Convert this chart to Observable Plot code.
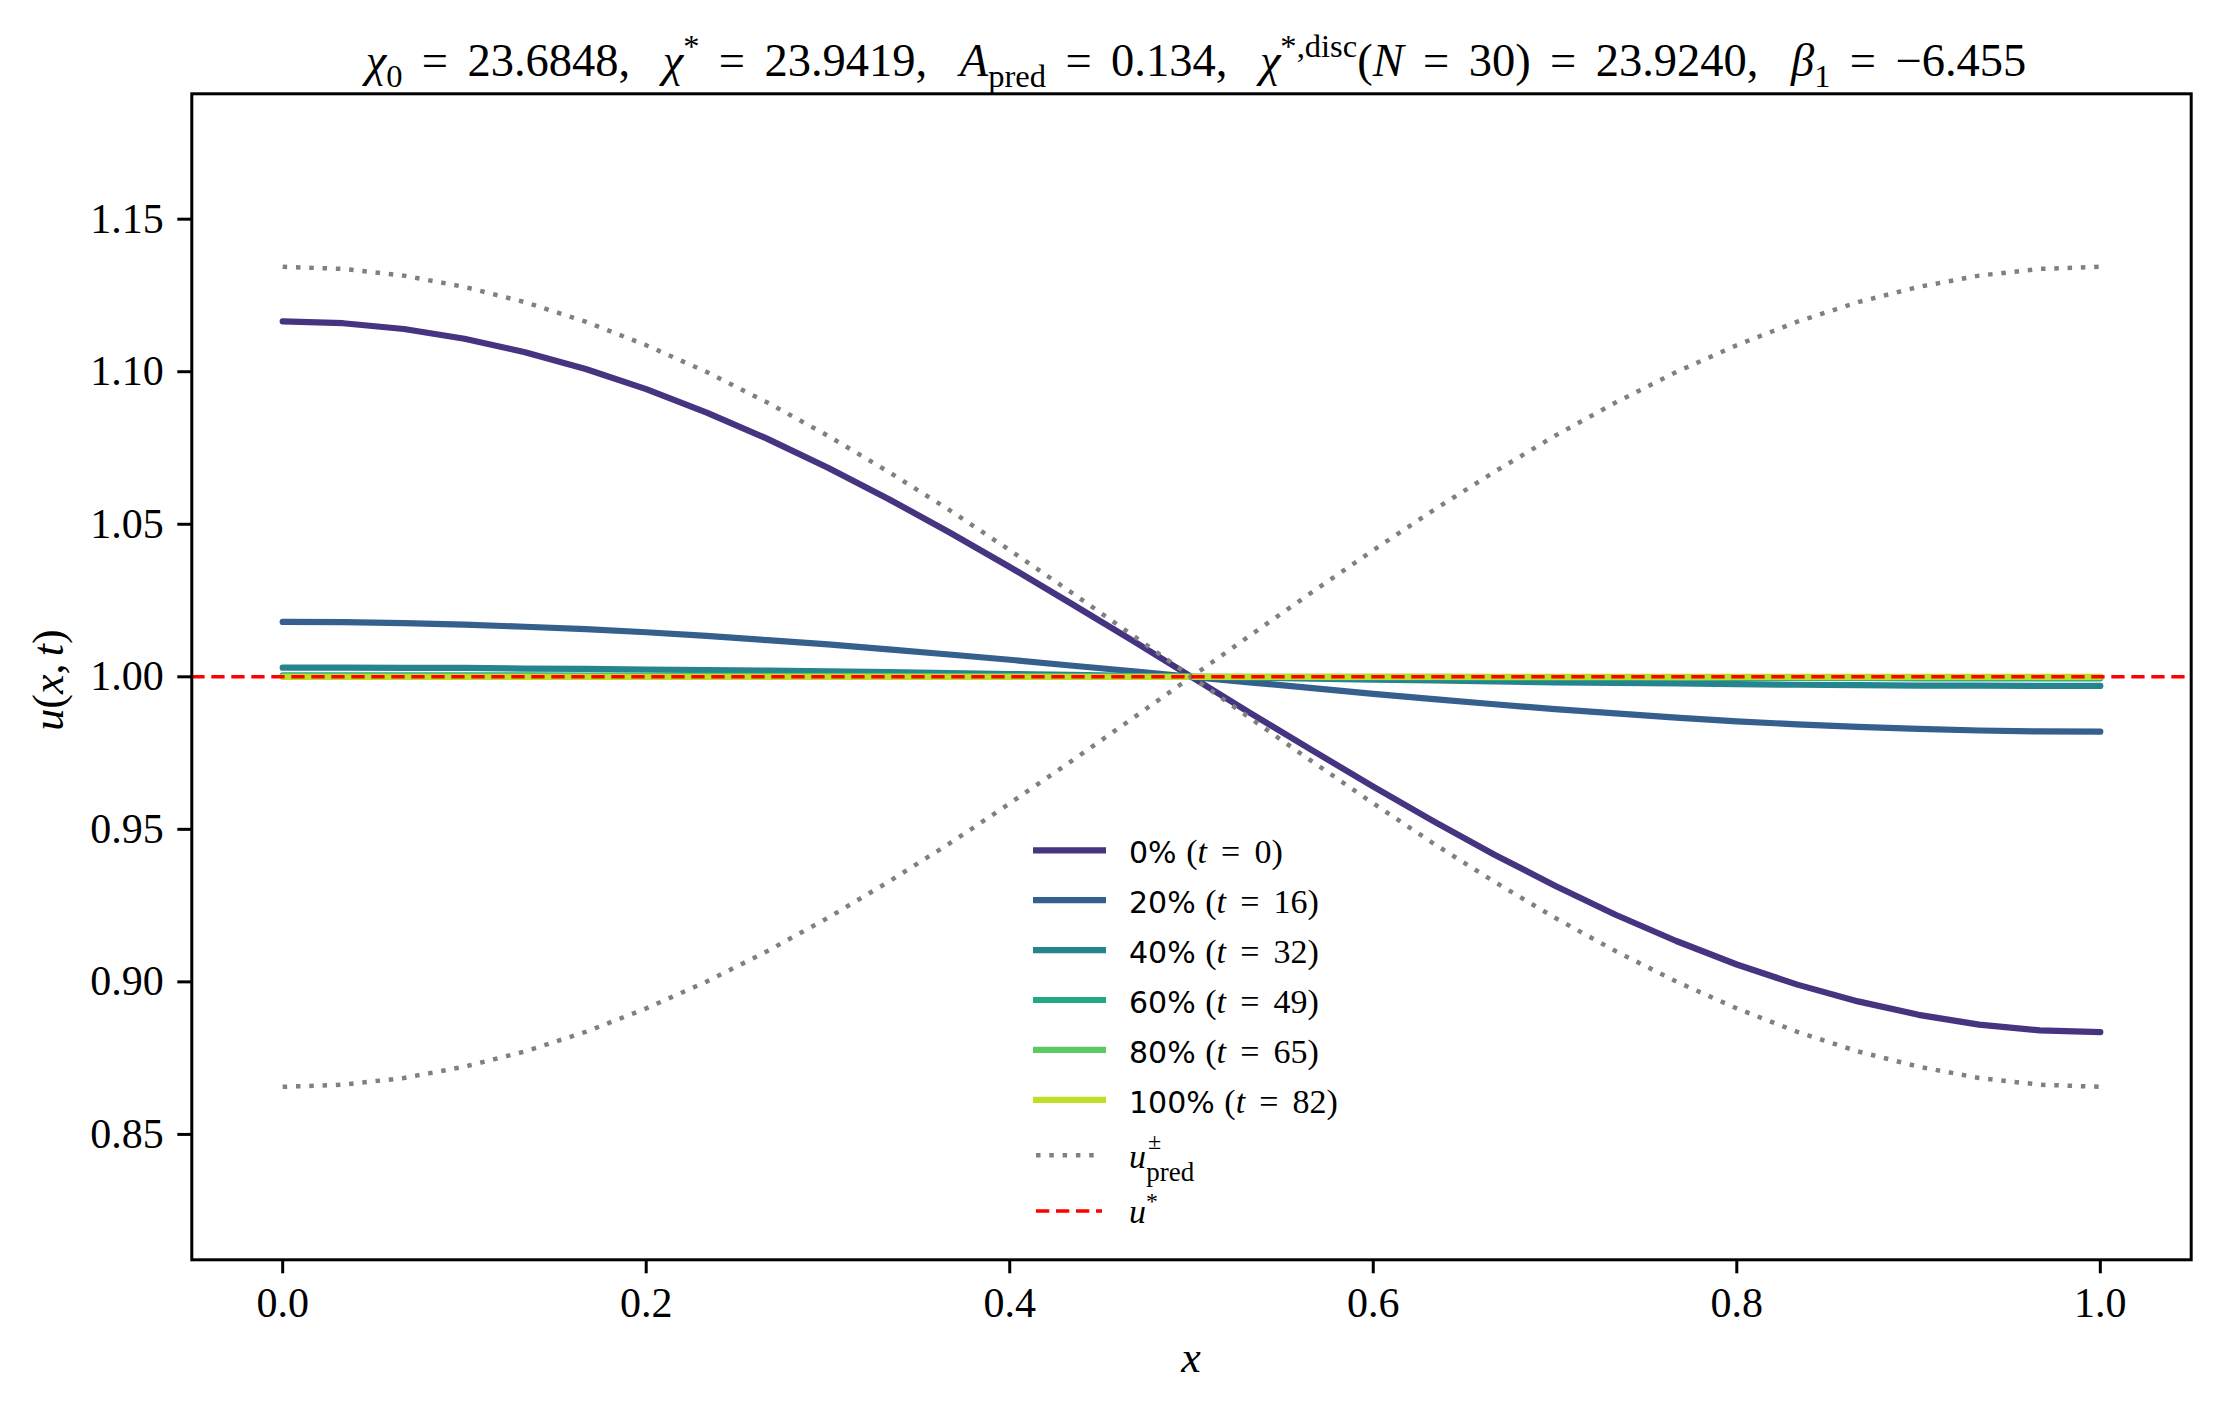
<!DOCTYPE html>
<html><head><meta charset="utf-8">
<script src="https://cdn.jsdelivr.net/npm/d3@7"></script>
<script src="https://cdn.jsdelivr.net/npm/@observablehq/plot@0.6"></script>
<style>
html,body{margin:0;padding:0;background:#fff;overflow:hidden}
#chart svg{display:block}
</style>
</head><body><div id="chart"></div>
<script>
// ---- data ----
const xGrid = [0.0000,0.0333,0.0667,0.1000,0.1333,0.1667,0.2000,0.2333,0.2667,0.3000,0.3333,0.3667,0.4000,0.4333,0.4667,0.5000,0.5333,0.5667,0.6000,0.6333,0.6667,0.7000,0.7333,0.7667,0.8000,0.8333,0.8667,0.9000,0.9333,0.9667,1.0000];
const u_t0  = [1.1165,1.1159,1.1140,1.1108,1.1064,1.1009,1.0943,1.0866,1.0780,1.0685,1.0583,1.0474,1.0360,1.0242,1.0122,1.0000,0.9878,0.9758,0.9640,0.9526,0.9417,0.9315,0.9220,0.9134,0.9057,0.8991,0.8936,0.8892,0.8860,0.8841,0.8835];
const u_t16 = [1.0180,1.0179,1.0176,1.0171,1.0164,1.0156,1.0146,1.0134,1.0120,1.0106,1.0090,1.0073,1.0056,1.0037,1.0019,1.0000,0.9981,0.9963,0.9944,0.9927,0.9910,0.9894,0.9880,0.9866,0.9854,0.9844,0.9836,0.9829,0.9824,0.9821,0.9820];
const u_t32 = [1.0030,1.0030,1.0029,1.0029,1.0027,1.0026,1.0024,1.0022,1.0020,1.0018,1.0015,1.0012,1.0009,1.0006,1.0003,1.0000,0.9997,0.9994,0.9991,0.9988,0.9985,0.9982,0.9980,0.9978,0.9976,0.9974,0.9973,0.9971,0.9971,0.9970,0.9970];
const u_t49 = [1.0005,1.0005,1.0005,1.0005,1.0005,1.0004,1.0004,1.0004,1.0003,1.0003,1.0003,1.0002,1.0002,1.0001,1.0001,1.0000,0.9999,0.9999,0.9998,0.9998,0.9998,0.9997,0.9997,0.9997,0.9996,0.9996,0.9996,0.9995,0.9995,0.9995,0.9995];
const u_t65 = [1.0001,1.0001,1.0001,1.0001,1.0001,1.0001,1.0001,1.0001,1.0001,1.0001,1.0001,1.0000,1.0000,1.0000,1.0000,1.0000,1.0000,1.0000,1.0000,1.0000,0.9999,0.9999,0.9999,0.9999,0.9999,0.9999,0.9999,0.9999,0.9999,0.9999,0.9999];
const u_t82 = [1.0000,1.0000,1.0000,1.0000,1.0000,1.0000,1.0000,1.0000,1.0000,1.0000,1.0000,1.0000,1.0000,1.0000,1.0000,1.0000,1.0000,1.0000,1.0000,1.0000,1.0000,1.0000,1.0000,1.0000,1.0000,1.0000,1.0000,1.0000,1.0000,1.0000,1.0000];
const uPredPlus  = [1.1344,1.1337,1.1315,1.1278,1.1228,1.1164,1.1087,1.0999,1.0899,1.0790,1.0672,1.0547,1.0415,1.0279,1.0140,1.0000,0.9860,0.9721,0.9585,0.9453,0.9328,0.9210,0.9101,0.9001,0.8913,0.8836,0.8772,0.8722,0.8685,0.8663,0.8656];
const uPredMinus = [0.8656,0.8663,0.8685,0.8722,0.8772,0.8836,0.8913,0.9001,0.9101,0.9210,0.9328,0.9453,0.9585,0.9721,0.9860,1.0000,1.0140,1.0279,1.0415,1.0547,1.0672,1.0790,1.0899,1.0999,1.1087,1.1164,1.1228,1.1278,1.1315,1.1337,1.1344];
const uStar = [1.0];
const seriesPct   = ["0%","20%","40%","60%","80%","100%"];
const seriesTimes = [0,16,32,49,65,82];
const xTicks = [0.0,0.2,0.4,0.6,0.8,1.0];
const yTicks = [0.85,0.90,0.95,1.00,1.05,1.10,1.15];

// ---- styles ----
const series = [u_t0,u_t16,u_t32,u_t49,u_t65,u_t82];
const colorPos = [0.15,0.30,0.45,0.60,0.75,0.90];
const colors = colorPos.map(p => d3.interpolateViridis(p));
const SERIF = "'Liberation Serif','DejaVu Serif',serif";
const SANS = "'DejaVu Sans','Liberation Sans',sans-serif";
const W = 2220, H = 1409;
const mL = 191.3, mR = W - 2190.7, mT = 93.3, mB = H - 1259.3;
const EQ = "\u2004\u200A=\u2004\u200A"; // wider spacing around relations, like TeX math
const GAP = ",\u2002\u2009";             // comma followed by a medium space

const toRows = vals => vals.map((v,k) => ({x: xGrid[k], u: v}));

const marks = [];
series.forEach((vals,i) => {
  marks.push(Plot.line(toRows(vals), {x:"x", y:"u", stroke: colors[i], strokeWidth: 6.2, strokeLinejoin:"round"}));
});
[uPredPlus, uPredMinus].forEach(vals => {
  marks.push(Plot.line(toRows(vals), {x:"x", y:"u", stroke:"#808080", strokeWidth:4.5, strokeDasharray:"4.5,8.8", strokeLinecap:"butt"}));
});
marks.push(Plot.ruleY(uStar, {stroke:"#ff0000", strokeWidth:3.6, strokeDasharray:"13.3,6.7"}));
marks.push(Plot.frame({stroke:"#000", strokeWidth:3}));
marks.push(Plot.axisX({ticks:xTicks, tickFormat:d=>d.toFixed(1), tickSize:14, tickPadding:13, strokeWidth:3, fontSize:42, fontFamily:SERIF, label:null}));
marks.push(Plot.axisY({ticks:yTicks, tickFormat:d=>d.toFixed(2), tickSize:14, tickPadding:14, strokeWidth:3, fontSize:42, fontFamily:SERIF, label:null}));

const svgNode = Plot.plot({
  width: W, height: H,
  marginLeft: mL, marginRight: mR, marginTop: mT, marginBottom: mB,
  x: {domain: [-0.05, 1.05]},
  y: {domain: [0.8089, 1.1911]},
  style: {background:"#fff", color:"#000", fontFamily: SERIF},
  marks
});
document.getElementById("chart").appendChild(svgNode);

// ---- text helpers (math-like text with tspans) ----
const svg = d3.select(svgNode);
function mathText(g, x, y, segs, fs, opts = {}) {
  const t = g.append("text").attr("x", x).attr("y", y)
    .attr("font-size", fs).attr("font-family", SERIF).attr("fill", "#000")
    .attr("text-anchor", opts.anchor || "start");
  if (opts.transform) t.attr("transform", opts.transform);
  let cur = 0;
  for (const s of segs) {
    const target = s.sub ? fs * 0.24 : s.sup ? -fs * 0.40 : (s.off || 0);
    const ts = t.append("tspan").attr("dy", target - cur).text(s.t);
    cur = target;
    if (s.sub || s.sup) ts.attr("font-size", fs * 0.7);
    if (s.fs) ts.attr("font-size", s.fs);
    if (s.dx) ts.attr("dx", s.dx);
    if (s.i) ts.attr("font-style", "italic");
    if (s.sans) ts.attr("font-family", SANS);
  }
  return t;
}

// title
mathText(svg, 1196, 76, [
  {t:"χ", i:true}, {t:"0", sub:true}, {t:EQ + "23.6848" + GAP},
  {t:"χ", i:true}, {t:"*", sup:true}, {t:EQ + "23.9419" + GAP},
  {t:"A", i:true}, {t:"pred", sub:true}, {t:EQ + "0.134" + GAP},
  {t:"χ", i:true}, {t:"*,disc", sup:true}, {t:"("}, {t:"N", i:true}, {t:EQ + "30)" + EQ + "23.9240" + GAP},
  {t:"β", i:true}, {t:"1", sub:true}, {t:EQ + "−6.455"}
], 46.5, {anchor:"middle"});

// axis labels
mathText(svg, (mL + (W - mR)) / 2, 1372, [{t:"x", i:true}], 44, {anchor:"middle"});
mathText(svg, 0, 0, [{t:"u", i:true}, {t:"("}, {t:"x", i:true}, {t:",\u2006"}, {t:"t", i:true}, {t:")"}], 44,
  {anchor:"middle", transform:"translate(63,680) rotate(-90)"});

// legend
const lg = svg.append("g");
const lx0 = 1033, lx1 = 1106, tx = 1129;
seriesPct.forEach((p, i) => {
  const cy = 850.3 + i * 49.9;
  lg.append("line").attr("x1", lx0).attr("x2", lx1).attr("y1", cy).attr("y2", cy)
    .attr("stroke", colors[i]).attr("stroke-width", 6.2);
  mathText(lg, tx, cy + 13, [
    {t: p + " ", sans:true, fs:30},
    {t:"("}, {t:"t", i:true}, {t:EQ + seriesTimes[i] + ")"}
  ], 34);
});
{
  const cy = 1155.3;
  lg.append("line").attr("x1", 1036).attr("x2", 1098).attr("y1", cy).attr("y2", cy)
    .attr("stroke", "#808080").attr("stroke-width", 4.5).attr("stroke-dasharray", "4.5,8.8");
  mathText(lg, tx, 1168, [{t:"u", i:true}, {t:"±", off:-19, fs:24, dx:2}, {t:"pred", off:13, fs:27, dx:-15}], 34);
}
{
  const cy = 1211;
  lg.append("line").attr("x1", 1036).attr("x2", 1102).attr("y1", cy).attr("y2", cy)
    .attr("stroke", "#ff0000").attr("stroke-width", 3.6).attr("stroke-dasharray", "13.3,6.7");
  mathText(lg, tx, 1223, [{t:"u", i:true}, {t:"*", sup:true}], 34);
}
</script>
</body></html>
